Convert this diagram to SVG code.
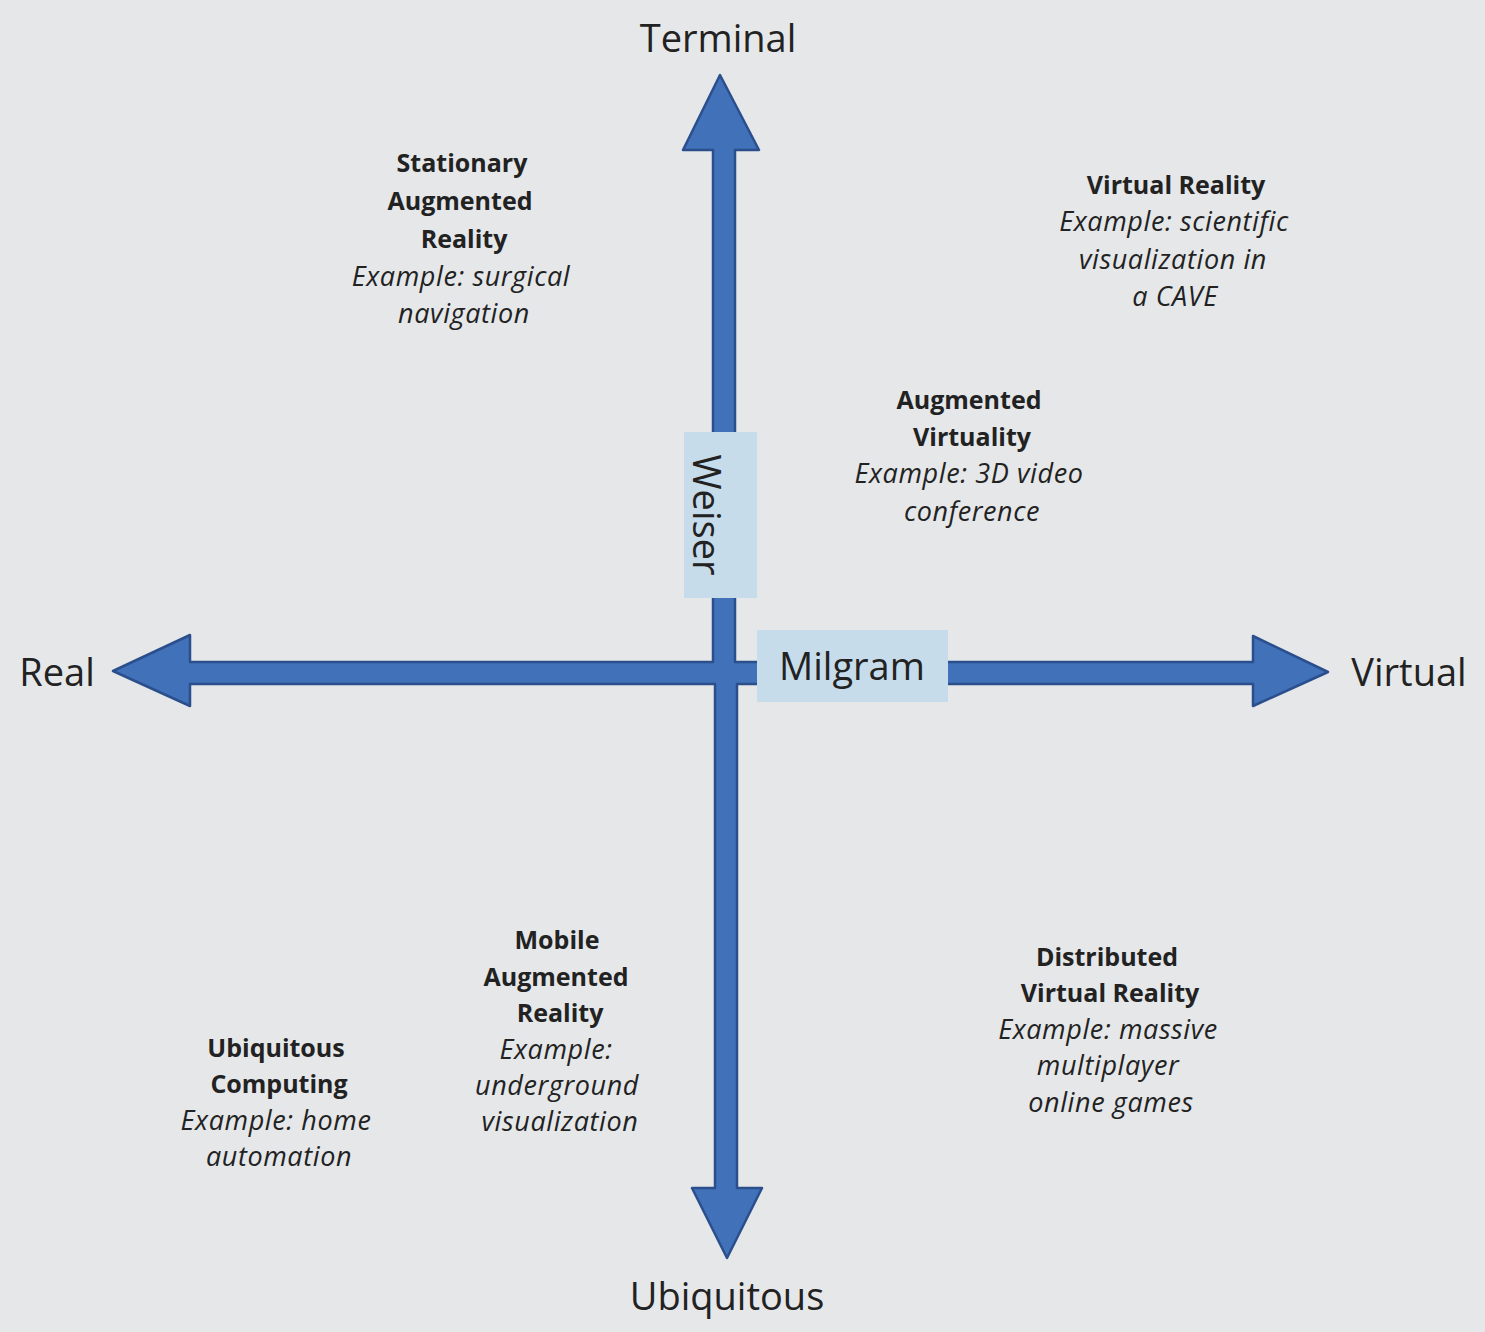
<svg xmlns="http://www.w3.org/2000/svg" width="1485" height="1332" viewBox="0 0 1485 1332">
<style>
.axis{fill:#4171b9;stroke:#2a4f8c;stroke-width:2.5;stroke-linejoin:round}
.lbl{font-family:"Open Sans",Lato,"Liberation Sans",sans-serif;fill:#222;font-size:38px;text-anchor:middle}
.t{font-family:"Open Sans",Lato,"Liberation Sans",sans-serif;fill:#222;font-size:25px;text-anchor:middle}
.b{font-weight:bold}
.i{font-style:italic;font-size:27px;letter-spacing:0.6px}
.box{fill:#c6dcea}
</style>
<rect width="1485" height="1332" fill="#e5e7e9"/>
<g id="connectors">
<path class="axis" d="M713,150 L683,150 L720,75 L759,150 L735,150 L735,662 L1253,662 L1253,636 L1328,672 L1253,706 L1253,684 L737,684 L737,1188 L762,1188 L727,1258 L692,1188 L715,1188 L715,684 L190,684 L190,706 L113,671 L190,635 L190,662 L713,662 Z"/>
</g>
<g id="weiser">
<rect class="box" x="684" y="432" width="73" height="166"/>
<text class="lbl" transform="translate(708,515) rotate(90)" dominant-baseline="central" font-size="36">Weiser</text>
</g>
<g id="milgram">
<rect class="box" x="757" y="630" width="191" height="72"/>
<text class="lbl" x="852" y="680" font-size="36">Milgram</text>
</g>
<g id="terminal"><text class="lbl" x="718" y="52">Terminal</text></g>
<g id="real"><text class="lbl" x="57" y="686">Real</text></g>
<g id="virtual"><text class="lbl" x="1409" y="686">Virtual</text></g>
<g id="ubiquitous"><text class="lbl" x="727" y="1310">Ubiquitous</text></g>
<g id="stationary-ar">
<text class="t b" x="462" y="172">Stationary</text>
<text class="t b" x="460" y="210">Augmented</text>
<text class="t b" x="464" y="248">Reality</text>
<text class="t i" x="461" y="286">Example: surgical</text>
<text class="t i" x="464" y="323">navigation</text>
</g>
<g id="virtual-reality">
<text class="t b" x="1176" y="194">Virtual Reality</text>
<text class="t i" x="1174" y="231">Example: scientific</text>
<text class="t i" x="1173" y="269">visualization in</text>
<text class="t i" x="1175" y="306">a CAVE</text>
</g>
<g id="augmented-virtuality">
<text class="t b" x="969" y="409">Augmented</text>
<text class="t b" x="972" y="446">Virtuality</text>
<text class="t i" x="969" y="483">Example: 3D video</text>
<text class="t i" x="972" y="521">conference</text>
</g>
<g id="mobile-ar">
<text class="t b" x="557" y="949">Mobile</text>
<text class="t b" x="556" y="986">Augmented</text>
<text class="t b" x="560" y="1022">Reality</text>
<text class="t i" x="556" y="1059">Example:</text>
<text class="t i" x="557" y="1095">underground</text>
<text class="t i" x="560" y="1131">visualization</text>
</g>
<g id="ubiquitous-computing">
<text class="t b" x="276" y="1057">Ubiquitous</text>
<text class="t b" x="279" y="1093">Computing</text>
<text class="t i" x="276" y="1130">Example: home</text>
<text class="t i" x="279" y="1166">automation</text>
</g>
<g id="distributed-vr">
<text class="t b" x="1107" y="966">Distributed</text>
<text class="t b" x="1110" y="1002">Virtual Reality</text>
<text class="t i" x="1108" y="1039">Example: massive</text>
<text class="t i" x="1108" y="1075">multiplayer</text>
<text class="t i" x="1111" y="1112">online games</text>
</g>
</svg>
